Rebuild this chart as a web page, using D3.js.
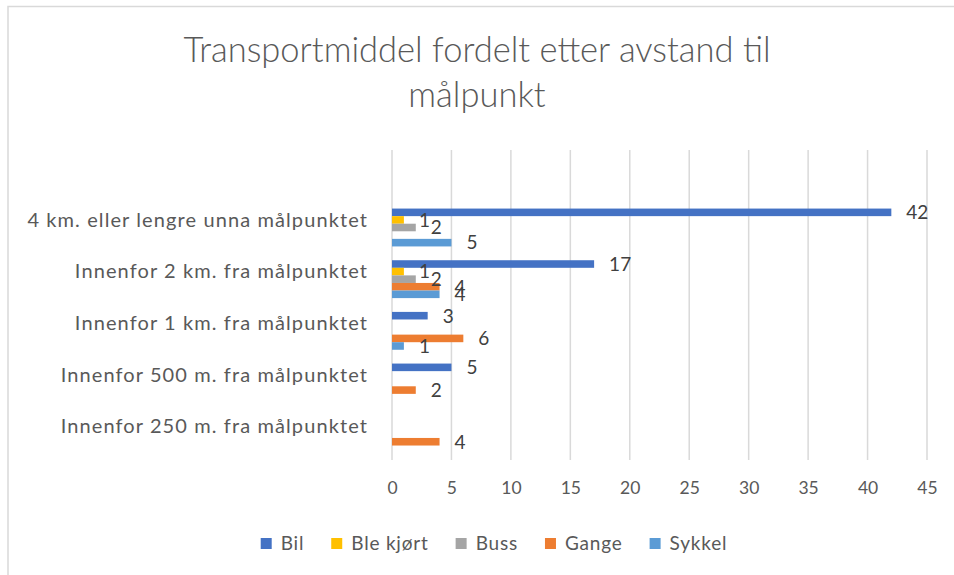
<!DOCTYPE html>
<html>
<head>
<meta charset="utf-8">
<script src="https://cdn.jsdelivr.net/npm/d3@7"></script>
<style>
  body { margin: 0; background: #fff; }
  text { font-family: Lato, "Open Sans", sans-serif; }
</style>
</head>
<body>
<div id="chart"></div>
<script>
var chartDiv = document.querySelector("#chart");

var width = 954;
var height = 575;

// categories top to bottom, the first one is empty in the source sheet
var categories = ["", "4 km. eller lengre unna målpunktet", "Innenfor 2 km. fra målpunktet",
  "Innenfor 1 km. fra målpunktet", "Innenfor 500 m. fra målpunktet", "Innenfor 250 m. fra målpunktet"];
var seriesNames = ["Bil", "Ble kjørt", "Buss", "Gange", "Sykkel"];
var seriesColors = ["#4472C4", "#FFC000", "#A5A5A5", "#ED7D31", "#5B9BD5"];

var bil      = [null, 42, 17, 3, 5, null];
var bleKjort = [null, 1, 1, null, null, null];
var buss     = [null, 2, 2, null, null, null];
var gange    = [null, null, 4, 6, 2, 4];
var sykkel   = [null, 5, 4, 1, null, null];

var xTicks = [0, 5, 10, 15, 20, 25, 30, 35, 40, 45];

var seriesValues = [bil, bleKjort, buss, gange, sykkel];

var plot = { left: 392, right: 927, top: 150, bottom: 460 };

var svg = d3.select(chartDiv)
  .append("svg")
    .attr("width", width)
    .attr("height", height);

// chart area border
svg.append("rect")
  .attr("x", 8).attr("y", 6.5)
  .attr("width", 980).attr("height", 600)
  .attr("fill", "none")
  .attr("stroke", "#d9d9d9")
  .attr("stroke-width", 1.5);

var x = d3.scaleLinear()
  .domain([0, 45])
  .range([plot.left, plot.right]);

var y = d3.scaleBand()
  .domain(categories)
  .range([plot.top, plot.bottom])
  .paddingInner(0.267)
  .paddingOuter(0.1335);

var ySub = d3.scaleBand()
  .domain(seriesNames)
  .range([0, y.bandwidth()]);

var color = d3.scaleOrdinal()
  .domain(seriesNames)
  .range(seriesColors);

// title
var titleLines = ["Transportmiddel fordelt etter avstand til", "målpunkt"];
svg.append("g")
  .selectAll("text")
  .data(titleLines)
  .enter()
  .append("text")
    .attr("x", 477)
    .attr("y", function(d, i){ return 62 + i * 45; })
    .attr("text-anchor", "middle")
    .style("font-size", "34.5px")
    .style("font-weight", 300)
    .attr("fill", "#595959")
    .text(function(d){ return d; });

// gridlines
svg.append("g")
  .selectAll("line")
  .data(xTicks)
  .enter()
  .append("line")
    .attr("x1", function(d){ return x(d); })
    .attr("x2", function(d){ return x(d); })
    .attr("y1", plot.top)
    .attr("y2", plot.bottom)
    .attr("stroke", "#d9d9d9")
    .attr("stroke-width", 1.5);

// x axis labels
var xAxis = d3.axisBottom(x)
  .tickValues(xTicks)
  .tickSize(0)
  .tickPadding(0);

var xAxisG = svg.append("g")
  .attr("transform", "translate(0," + 482 + ")")
  .call(xAxis);
xAxisG.select(".domain").remove();
xAxisG.selectAll("text")
  .attr("dy", "0.71em")
  .style("font-family", "Lato, 'Open Sans', sans-serif")
  .style("font-size", "17.5px")
  .attr("fill", "#595959");

// category labels
var yAxis = d3.axisLeft(y)
  .tickSize(0)
  .tickPadding(0);

var yAxisG = svg.append("g")
  .attr("transform", "translate(" + 368 + ",0)")
  .call(yAxis);
yAxisG.select(".domain").remove();
yAxisG.selectAll("text")
  .attr("dy", "-0.05em")
  .style("font-family", "Lato, 'Open Sans', sans-serif")
  .style("font-size", "20px")
  .style("letter-spacing", "1.1px")
  .attr("fill", "#595959");

// bars
var rows = [];
for (var s = 0; s < seriesNames.length; s++) {
  for (var c = 0; c < categories.length; c++) {
    var v = seriesValues[s][c];
    if (v !== null) {
      rows.push({ series: seriesNames[s], category: categories[c], value: v });
    }
  }
}

svg.append("g")
  .selectAll("rect")
  .data(rows)
  .enter()
  .append("rect")
    .attr("x", x(0))
    .attr("y", function(d){ return y(d.category) + ySub(d.series); })
    .attr("width", function(d){ return x(d.value) - x(0); })
    .attr("height", ySub.bandwidth())
    .attr("fill", function(d){ return color(d.series); });

// data labels (the reference also lets the "2" and "4" of the 2 km group overlap)
svg.append("g")
  .selectAll("text")
  .data(rows)
  .enter()
  .append("text")
    .attr("x", function(d){ return x(d.value) + 15; })
    .attr("y", function(d){ return y(d.category) + ySub(d.series) + ySub.bandwidth() / 2; })
    .attr("dy", "0.36em")
    .style("font-size", "19px")
    .attr("fill", "#404040")
    .text(function(d){ return d.value; });

// legend
var legend = svg.append("g");
var cursor = 0;
seriesNames.forEach(function(name) {
  var item = legend.append("g").attr("transform", "translate(" + cursor + ",0)");
  item.append("rect")
    .attr("x", 0).attr("y", 538)
    .attr("width", 11).attr("height", 11)
    .attr("fill", color(name));
  var t = item.append("text")
    .attr("x", 20).attr("y", 550)
    .style("font-size", "19px")
    .style("letter-spacing", "0.8px")
    .attr("fill", "#595959")
    .text(name);
  cursor += 20 + t.node().getComputedTextLength() + 27;
});
cursor -= 27;
legend.attr("transform", "translate(" + (494 - cursor / 2) + ",0)");
</script>
</body>
</html>
